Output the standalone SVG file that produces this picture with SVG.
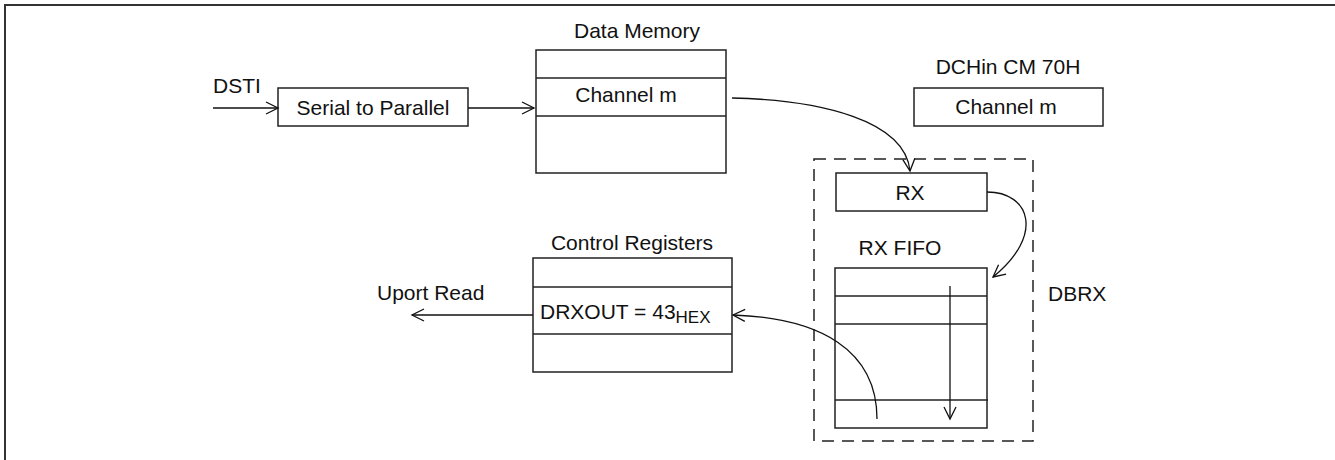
<svg xmlns="http://www.w3.org/2000/svg" width="1335" height="460" viewBox="0 0 1335 460">
<style>
  text { font-family: "Liberation Sans", Arial, Helvetica, sans-serif; font-size: 21px; fill: #111; }
  .box { fill: #fff; stroke: #222; stroke-width: 1.5; }
  .ln { stroke: #222; stroke-width: 1.5; fill: none; }
  .conn { stroke: #111; stroke-width: 1.3; fill: none; }
  .dash { fill: none; stroke: #222; stroke-width: 1.5; stroke-dasharray: 12 8; }
  .sub { font-size: 17px; }
</style>
<defs>
  <marker id="arr" markerWidth="16" markerHeight="14" refX="13" refY="7" orient="auto" markerUnits="userSpaceOnUse">
    <path d="M1,1 L13,7 L1,13" fill="none" stroke="#111" stroke-width="1.3"/>
  </marker>
</defs>
<rect x="0" y="0" width="1335" height="460" fill="#fff"/>
<path d="M5,460 L5,5 L1335,5" fill="none" stroke="#333" stroke-width="2"/>

<g id="dsti-label"><text x="213" y="93">DSTI</text></g>

<g id="serial-to-parallel">
  <rect class="box" x="278" y="88" width="190" height="38"/>
  <text x="373" y="115" text-anchor="middle">Serial to Parallel</text>
</g>

<g id="data-memory">
  <text x="637" y="38" text-anchor="middle">Data Memory</text>
  <rect class="box" x="536" y="50" width="190" height="123"/>
  <line class="ln" x1="536" y1="78" x2="726" y2="78"/>
  <line class="ln" x1="536" y1="116" x2="726" y2="116"/>
  <text x="626" y="102" text-anchor="middle">Channel m</text>
</g>

<g id="dchin-cm">
  <text x="1008" y="74" text-anchor="middle">DCHin CM 70H</text>
  <rect class="box" x="914" y="88" width="189" height="38"/>
  <text x="1006" y="114" text-anchor="middle">Channel m</text>
</g>

<g id="dbrx">
  <rect class="dash" x="814" y="159" width="219" height="282"/>
  <text x="1048" y="301">DBRX</text>
</g>

<g id="rx">
  <rect class="box" x="836" y="173" width="151" height="38"/>
  <text x="910" y="200" text-anchor="middle">RX</text>
</g>

<g id="rx-fifo">
  <text x="900" y="255" text-anchor="middle">RX FIFO</text>
  <rect class="box" x="835" y="268" width="152" height="160"/>
  <line class="ln" x1="835" y1="296" x2="987" y2="296"/>
  <line class="ln" x1="835" y1="324" x2="987" y2="324"/>
  <line class="ln" x1="835" y1="400" x2="988" y2="400"/>
</g>

<g id="control-registers">
  <text x="632" y="250" text-anchor="middle">Control Registers</text>
  <rect class="box" x="533" y="258" width="199" height="114"/>
  <line class="ln" x1="533" y1="287" x2="732" y2="287"/>
  <line class="ln" x1="533" y1="334" x2="732" y2="334"/>
  <text x="540" y="319">DRXOUT = 43<tspan class="sub" dy="4">HEX</tspan></text>
</g>

<g id="uport-label"><text x="377" y="300">Uport Read</text></g>

<g id="connectors">
  <line class="conn" x1="213" y1="108" x2="278" y2="108" marker-end="url(#arr)"/>
  <line class="conn" x1="468" y1="108" x2="534" y2="108" marker-end="url(#arr)"/>
  <path class="conn" d="M732,98 C820,100 905,120 910,171" marker-end="url(#arr)"/>
  <path class="conn" d="M987,192 C1030,192 1045,235 993,277" marker-end="url(#arr)"/>
  <line class="conn" x1="950" y1="286" x2="950" y2="419" marker-end="url(#arr)"/>
  <path class="conn" d="M877,419 C877,350 820,318 733,315" marker-end="url(#arr)"/>
  <line class="conn" x1="533" y1="315" x2="412" y2="315" marker-end="url(#arr)"/>
</g>
</svg>
